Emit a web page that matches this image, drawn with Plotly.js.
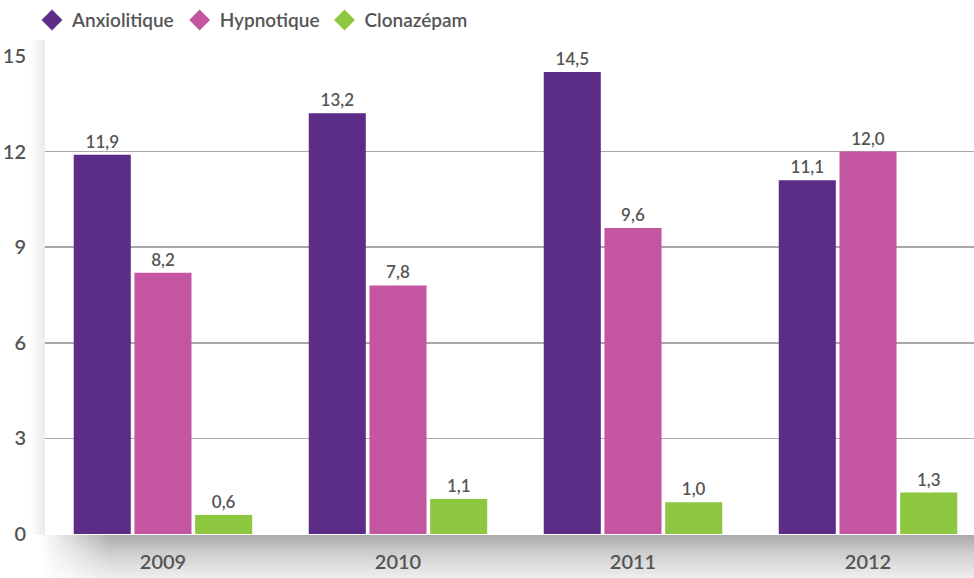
<!DOCTYPE html>
<html>
<head>
<meta charset="utf-8">
<script src="https://cdn.plot.ly/plotly-3.0.1.min.js"></script>
<style>
  html, body { margin: 0; padding: 0; background: #ffffff; }
  #wrap { position: relative; width: 974px; height: 578px; overflow: hidden; }
  #shadow {
    position: absolute; left: 40px; top: 535px; width: 934px; height: 43px;
    background: linear-gradient(to bottom, #ababab 0%, #d0d0d0 45%, #efefef 100%);
    -webkit-mask-image: linear-gradient(to right, transparent 0px, black 70px);
    mask-image: linear-gradient(to right, transparent 0px, black 70px);
  }
  #lshadow {
    position: absolute; left: 30px; top: 40px; width: 15px; height: 495px;
    background: linear-gradient(to right, rgba(255,255,255,0), rgba(215,215,215,0.5));
  }
  #chart { position: absolute; left: 0; top: 0; width: 974px; height: 578px; }
</style>
</head>
<body>
<div id="wrap">
  <div id="shadow"></div>
  <div id="lshadow"></div>
  <div id="chart"></div>
</div>
<script>
const years = ['2009', '2010', '2011', '2012'];
const anxiolitique = [11.9, 13.2, 14.5, 11.1];
const hypnotique = [8.2, 7.8, 9.6, 12.0];
const clonazepam = [0.6, 1.1, 1.0, 1.3];
const seriesNames = ['Anxiolitique', 'Hypnotique', 'Clonazépam'];
const colors = ['#5b2d87', '#c455a0', '#8dc63f'];
const yTicks = [0, 3, 6, 9, 12, 15];

const FONT = 'Lato, "Open Sans", sans-serif';
const TXT = '#555555';
const seriesData = [anxiolitique, hypnotique, clonazepam];

const traces = [];
seriesData.forEach((vals, i) => {
  traces.push({
    type: 'bar',
    x: years,
    y: vals,
    name: seriesNames[i],
    showlegend: false,
    marker: { color: colors[i] },
    texttemplate: '%{y:.1f}',
    textposition: 'outside',
    cliponaxis: false,
    textfont: { family: FONT, size: 17, color: TXT, weight: 600 },
    hoverinfo: 'x+y+name'
  });
});
seriesNames.forEach((n, i) => {
  traces.push({
    type: 'scatter',
    mode: 'markers',
    x: [null], y: [null],
    name: n,
    marker: { symbol: 'diamond', size: 17, color: colors[i] },
    showlegend: true
  });
});

const layout = {
  width: 974,
  height: 578,
  margin: { l: 45, r: 0, t: 56, b: 44 },
  paper_bgcolor: 'rgba(0,0,0,0)',
  plot_bgcolor: '#ffffff',
  separators: ', ',
  barmode: 'group',
  bargap: 0.225,
  bargroupgap: 0.06,
  font: { family: FONT, color: TXT },
  showlegend: true,
  legend: {
    orientation: 'h',
    x: -0.014, xanchor: 'left',
    y: 1.075, yanchor: 'middle',
    font: { family: FONT, size: 19, color: TXT, weight: 600 },
    itemwidth: 30,
    tracegroupgap: 0,
    bgcolor: 'rgba(0,0,0,0)'
  },
  xaxis: {
    type: 'category',
    range: [-0.502, 3.451],
    showgrid: false,
    zeroline: false,
    showline: false,
    ticks: 'outside',
    ticklen: 10,
    tickcolor: 'rgba(0,0,0,0)',
    tickfont: { family: FONT, size: 20, color: TXT, weight: 600 }
  },
  yaxis: {
    range: [0, 15],
    tickvals: yTicks,
    ticktext: yTicks.map(String),
    showgrid: true,
    gridcolor: '#a8a8a8',
    gridwidth: 1.6,
    zeroline: false,
    showline: false,
    ticks: 'outside',
    ticklen: 14,
    tickcolor: 'rgba(0,0,0,0)',
    tickfont: { family: FONT, size: 20, color: TXT, weight: 600 }
  }
};

Plotly.newPlot('chart', traces, layout, { displayModeBar: false, staticPlot: true });
</script>
</body>
</html>
